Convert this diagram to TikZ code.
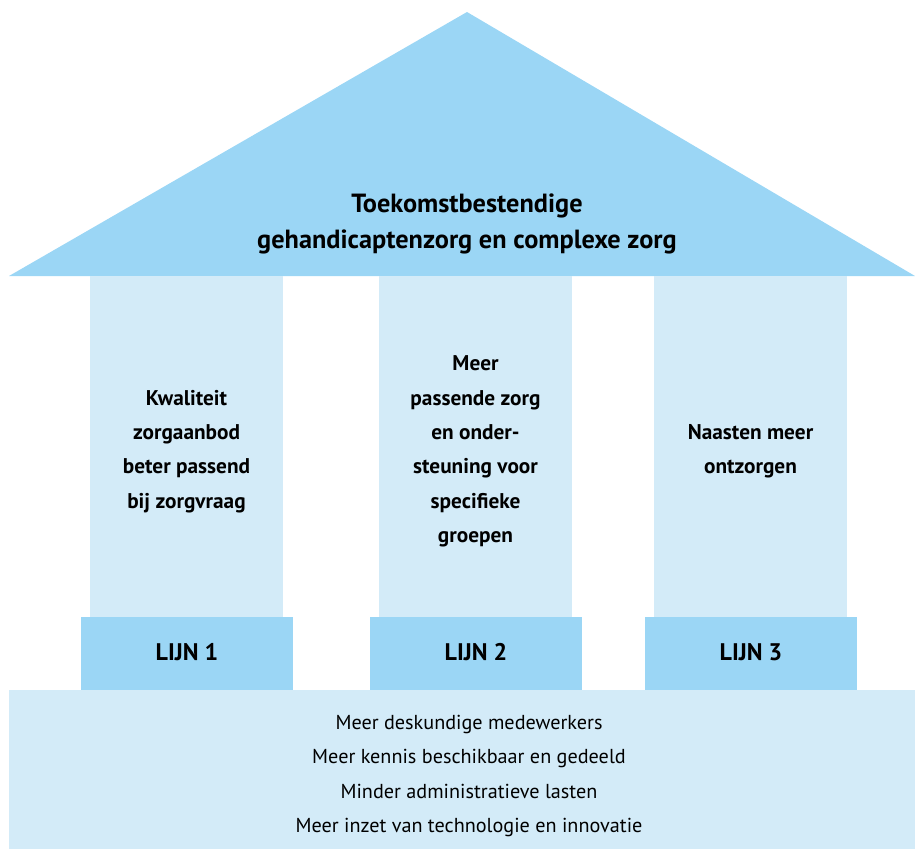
\documentclass[tikz,border=0pt]{standalone}
\usepackage{fontspec}
\setmainfont{PT Sans}
\definecolor{roofblue}{RGB}{155,214,245}
\definecolor{paleblue}{RGB}{211,235,248}
\begin{document}
\begin{tikzpicture}[x=1pt,y=-1pt,
  pillar/.style={fill=paleblue,draw=none},
  dark/.style={fill=roofblue,draw=none},
  boldtxt/.style={font=\bfseries\fontsize{21.3}{34.3}\selectfont,align=center,inner sep=0pt},
  lijntxt/.style={font=\bfseries\fontsize{24}{28}\selectfont,align=center,inner sep=0pt},
  basetxt/.style={font=\fontsize{20.2}{34.6}\selectfont,align=center,inner sep=0pt},
  rooftxt/.style={font=\bfseries\fontsize{26.3}{36}\selectfont,align=center,inner sep=0pt}]
\useasboundingbox (0,0) rectangle (915,849);
% roof
\fill[roofblue] (467,12) -- (915,276) -- (9,276) -- cycle;
\node[rooftxt] (roof) at (467,224) {Toekomstbestendige\\gehandicaptenzorg en complexe zorg};
% pillars
\fill[pillar] (90,276) rectangle (283,618);
\fill[pillar] (379,276) rectangle (572,618);
\fill[pillar] (654,276) rectangle (847,618);
% plinths
\fill[dark] (81,617) rectangle (293,690);
\fill[dark] (370,617) rectangle (582,690);
\fill[dark] (645,617) rectangle (857,690);
% base
\fill[pillar] (9,690) rectangle (915,849);
% pillar texts
\node[boldtxt] (t1) at (186.5,451.5) {Kwaliteit\\zorgaanbod\\beter passend\\bij zorgvraag};
\node[boldtxt] (t2) at (475.5,451.5) {Meer\\passende zorg\\en onder-\\steuning voor\\specifieke\\groepen};
\node[boldtxt] (t3) at (750.5,451.5) {Naasten meer\\ontzorgen};
% lijn labels
\node[lijntxt] (l1) at (187,652.5) {LIJN 1};
\node[lijntxt] (l2) at (476,652.5) {LIJN 2};
\node[lijntxt] (l3) at (751,652.5) {LIJN 3};
% base text
\node[basetxt] (b) at (469,776) {Meer deskundige medewerkers\\Meer kennis beschikbaar en gedeeld\\Minder administratieve lasten\\Meer inzet van technologie en innovatie};
\end{tikzpicture}
\end{document}
